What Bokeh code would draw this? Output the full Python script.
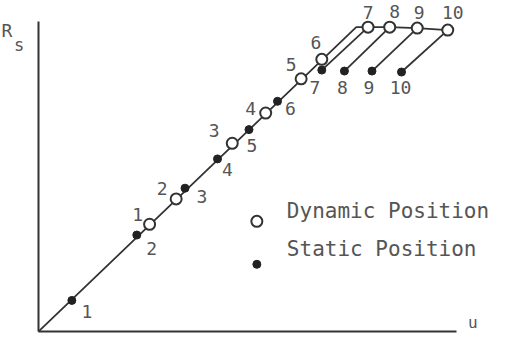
from bokeh.plotting import figure
from bokeh.models import LinearAxis, FixedTicker, Range1d, ColumnDataSource
from bokeh.core.properties import value
from bokeh.embed import file_html
from bokeh.resources import INLINE

# ---- data (u, R_s) in arbitrary units ----
steps = [1, 2, 3, 4, 5, 6, 7, 8, 9, 10]
static_u = [3.4, 10.0, 14.9, 18.2, 21.4, 24.3, 28.8, 31.1, 33.9, 36.9]
static_rs = [3.2, 9.9, 14.7, 17.7, 20.7, 23.6, 26.8, 26.7, 26.7, 26.6]
dynamic_u = [11.3, 14.0, 19.7, 23.1, 26.7, 28.8, 33.5, 35.7, 38.5, 41.6]
dynamic_rs = [11.0, 13.6, 19.3, 22.4, 25.9, 27.9, 31.2, 31.2, 31.1, 30.9]
# trajectory of the dynamic position: straight rise, then saturation
knee_u, knee_rs = 32.3, 31.2
u_axis_max, rs_axis_max = 42.5, 31.8

# ---- layout (pixel offsets of the number labels) ----
static_dx = [15, 15, 17, 10, 3, 13, -7, -2, -3, -1]
static_dy = [11, 13, 8, 11, 16, 7, 17, 16, 16, 15]
dynamic_dx = [-12, -14, -18, -15, -10, -6, 0, 5, 2, 5]
dynamic_dy = [-10, -10, -13, -5, -14, -17, -15, -16, -16, -18]

INK = "#333333"
TXT = "#555555"
MONO = value("DejaVu Sans Mono")

p = figure(width=494, height=333,
           x_range=Range1d(-3.85, 46.35), y_range=Range1d(-0.19, 33.93),
           x_axis_type=None, y_axis_type=None,
           toolbar_location=None, output_backend="svg",
           min_border=0, outline_line_color=None)

def make_axis(bounds):
    ax = LinearAxis(fixed_location=0, bounds=bounds, ticker=FixedTicker(ticks=[]),
                    axis_line_width=2, axis_line_color=INK,
                    major_tick_line_color=None, minor_tick_line_color=None,
                    major_tick_in=0, major_tick_out=0,
                    major_label_text_font_size="0px", major_label_standoff=0)
    return ax

p.add_layout(make_axis((0, rs_axis_max)), "left")
p.add_layout(make_axis((0, u_axis_max)), "below")

# trajectory line
traj_u = [0, knee_u] + dynamic_u[6:]
traj_rs = [0, knee_rs] + dynamic_rs[6:]
p.line(traj_u, traj_rs, line_color=INK, line_width=1.8)

# connectors static -> dynamic for saturated steps
p.segment(x0=static_u[6:], y0=static_rs[6:], x1=dynamic_u[6:], y1=dynamic_rs[6:],
          line_color=INK, line_width=1.8)

src_s = ColumnDataSource(dict(u=static_u, rs=static_rs, lab=[str(s) for s in steps],
                              dx=static_dx, dy=static_dy))
src_d = ColumnDataSource(dict(u=dynamic_u, rs=dynamic_rs, lab=[str(s) for s in steps],
                              dx=dynamic_dx, dy=dynamic_dy))

p.scatter("u", "rs", source=src_s, size=8, marker="circle",
          fill_color="#222222", line_color="#222222")
p.scatter("u", "rs", source=src_d, size=11, marker="circle",
          fill_color="white", line_color=INK, line_width=2)

p.text("u", "rs", text="lab", source=src_s, x_offset="dx", y_offset="dy",
       text_font=MONO, text_font_size="18px", text_color=TXT,
       text_align="center", text_baseline="middle")
p.text("u", "rs", text="lab", source=src_d, x_offset="dx", y_offset="dy",
       text_font=MONO, text_font_size="18px", text_color=TXT,
       text_align="center", text_baseline="middle")

# legend (drawn by hand: key markers below/right of text as in the original)
leg_u = [22.2, 22.2]
leg_rs = [11.3, 6.9]
p.scatter([leg_u[0]], [leg_rs[0]], size=11, marker="circle",
          fill_color="white", line_color=INK, line_width=2)
p.scatter([leg_u[1]], [leg_rs[1]], size=8, marker="circle",
          fill_color="#222222", line_color="#222222")
p.text(leg_u, leg_rs, text=["Dynamic Position", "Static Position"],
       x_offset=30, y_offset=[-10, -15],
       text_font=MONO, text_font_size="21px", text_color=TXT,
       text_align="left", text_baseline="middle")

# axis labels
p.text([-3.75], [30.9], text=["R"], text_font=MONO, text_font_size="18px",
       text_color=TXT, text_align="left", text_baseline="middle")
p.text([-1.95], [29.4], text=["s"], text_font=MONO, text_font_size="17px",
       text_color=TXT, text_align="center", text_baseline="middle")
p.text([44.15], [0.9], text=["u"], text_font=MONO, text_font_size="16px",
       text_color=TXT, text_align="center", text_baseline="middle")

open("out.html", "w").write(file_html(p, INLINE))
